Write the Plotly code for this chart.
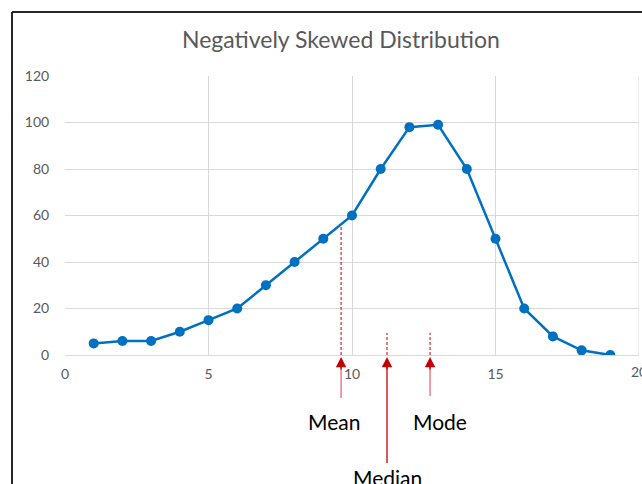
import plotly.graph_objects as go

x_vals = list(range(1, 20))
y_vals = [5, 6, 6, 10, 15, 20, 30, 40, 50, 60, 80, 98, 99, 80, 50, 20, 8, 2, 0]

stat_labels = ["Mean", "Median", "Mode"]
stat_x = [9.62, 11.22, 12.72]
label_x = [9.37, 11.22, 13.05]
dash_top = [56, 9.5, 9.5]
shaft_bottom_paper = [-0.154, -0.387, -0.147]
label_y_paper = [-0.2366, -0.44, -0.2366]
shaft_colors = ["#E26A78", "#C00000", "#E26A78"]

BLUE = "#0070C0"
RED = "#C00000"
GRID = "#D9D9D9"
TXT = "#595959"
FONT = "Lato, Open Sans, Liberation Sans, sans-serif"

fig = go.Figure()
fig.add_trace(go.Scatter(
    x=x_vals, y=y_vals, mode="lines+markers",
    line=dict(color=BLUE, width=2.5),
    marker=dict(color=BLUE, size=10),
    showlegend=False, hoverinfo="skip"))

shapes = []
annotations = []
for lab, sx, lx, dt, sb, ly, sc in zip(stat_labels, stat_x, label_x, dash_top,
                                       shaft_bottom_paper, label_y_paper, shaft_colors):
    shapes.append(dict(type="line", xref="x", yref="y", x0=sx, x1=sx, y0=0, y1=dt,
                       line=dict(color=RED, width=1, dash="3px,2px")))
    shapes.append(dict(type="line", xref="x", yref="paper", x0=sx, x1=sx, y0=sb, y1=-0.04,
                       line=dict(color=sc, width=1.3)))
    annotations.append(dict(x=sx, y=-0.007, xref="x", yref="paper",
                            ax=0, ay=14, text="", showarrow=True,
                            arrowhead=2, arrowsize=1.6, arrowwidth=1.3, arrowcolor=RED))
    annotations.append(dict(x=lx, y=ly, xref="x", yref="paper", text=lab, showarrow=False,
                            yanchor="middle",
                            font=dict(family=FONT, size=21, color="#000000")))

# x tick label "20" at the clipped right edge
annotations.append(dict(x=20, y=-0.022, xref="x", yref="paper", text="20", showarrow=False,
                        xanchor="center", yanchor="top",
                        font=dict(family=FONT, size=14, color=TXT)))

# chart outer border (Excel chart area)
shapes.append(dict(type="line", xref="paper", yref="paper", x0=-0.0923, x1=-0.0923,
                   y0=-0.5, y1=1.229, line=dict(color="#262626", width=2)))
shapes.append(dict(type="line", xref="paper", yref="paper", x0=-0.0923, x1=1.2,
                   y0=1.229, y1=1.229, line=dict(color="#262626", width=2)))

fig.update_layout(
    width=642, height=484,
    margin=dict(l=65, r=3, t=76, b=129),
    paper_bgcolor="white", plot_bgcolor="white",
    title=dict(text="Negatively Skewed Distribution", x=0.531, xanchor="center",
               xref="container", y=1 - 40 / 484, yanchor="middle",
               font=dict(family=FONT, size=23, color=TXT)),
    xaxis=dict(range=[0, 20], tickvals=[0, 5, 10, 15], showgrid=True, gridcolor=GRID,
               gridwidth=1, zeroline=False, showline=True, linecolor=GRID, linewidth=1,
               ticks="outside", ticklen=6, tickcolor="rgba(0,0,0,0)",
               tickfont=dict(family=FONT, size=14, color=TXT)),
    yaxis=dict(range=[0, 120], tickvals=[0, 20, 40, 60, 80, 100, 120], showgrid=True,
               gridcolor=GRID, gridwidth=1, zeroline=False, showline=False,
               ticks="outside", ticklen=12, tickcolor="rgba(0,0,0,0)",
               tickfont=dict(family=FONT, size=14, color=TXT)),
    shapes=shapes, annotations=annotations,
)
# vertical gridline at x=20 (right edge of plot area)
fig.add_shape(type="line", xref="x", yref="y", x0=20, x1=20, y0=0, y1=120,
              line=dict(color=GRID, width=1), layer="below")

fig.write_html("out.html")
